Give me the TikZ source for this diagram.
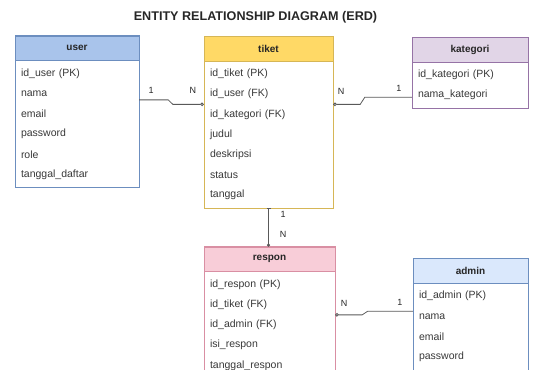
\documentclass[tikz,border=0pt]{standalone}
\usepackage{fontspec}
\setmainfont{Liberation Sans}
\usetikzlibrary{positioning,calc,arrows.meta}

\definecolor{userfill}{HTML}{A9C4EB}
\definecolor{userline}{HTML}{6C8EBF}
\definecolor{tiketfill}{HTML}{FFD966}
\definecolor{tiketline}{HTML}{D6B656}
\definecolor{katfill}{HTML}{E1D5E7}
\definecolor{katline}{HTML}{9673A6}
\definecolor{resfill}{HTML}{F8CDD8}
\definecolor{resline}{HTML}{D98FA3}
\definecolor{admfill}{HTML}{DAE8FC}
\definecolor{admline}{HTML}{6C8EBF}

\begin{document}
\begin{tikzpicture}[x=1pt,y=-1pt]
        \tikzstyle{head} = [rectangle, minimum height=24.5pt, inner sep=0pt, font=\fontsize{10}{12}\selectfont\bfseries, text=black!85]
        \tikzstyle{field} = [rectangle, minimum height=19.8pt, inner xsep=6pt, inner ysep=0pt, align=left, font=\fontsize{10.5}{12}\selectfont, text=black!78]
        \tikzstyle{card} = [inner sep=1pt, font=\fontsize{9}{10}\selectfont, text=black!85]
        \tikzstyle{link} = [draw=black!65, line width=0.8pt]

        \clip (0,0) rectangle (534,369);

        \node (title) at (255.5,17) [font=\fontsize{12.6}{14}\selectfont\bfseries, text=black!85] {ENTITY RELATIONSHIP DIAGRAM (ERD)};

        % user
        \node (userhead) [head, minimum width=124pt, fill=userfill, draw=userline] at (77,48) {user};
        \node (u1) [field, text width=112pt, below right=3pt and 0pt of userhead.south west] {id\_user (PK)};
        \node (u2) [field, text width=112pt, below=0pt of u1] {nama};
        \node (u3) [field, text width=112pt, below=0pt of u2] {email};
        \node (u4) [field, text width=112pt, below=0pt of u3] {password};
        \node (u5) [field, text width=112pt, below=0pt of u4] {role};
        \node (u6) [field, text width=112pt, below=0pt of u5] {tanggal\_daftar};
        \draw [userline] (userhead.north west) rectangle ([yshift=-3pt]u6.south east);

        % tiket
        \node (tikethead) [head, minimum width=129pt, fill=tiketfill, draw=tiketline] at (268.5,48.5) {tiket};
        \node (t1) [field, text width=117pt, below right=3pt and 0pt of tikethead.south west] {id\_tiket (PK)};
        \node (t2) [field, text width=117pt, below=0pt of t1] {id\_user (FK)};
        \node (t3) [field, text width=117pt, below=0pt of t2] {id\_kategori (FK)};
        \node (t4) [field, text width=117pt, below=0pt of t3] {judul};
        \node (t5) [field, text width=117pt, below=0pt of t4] {deskripsi};
        \node (t6) [field, text width=117pt, below=0pt of t5] {status};
        \node (t7) [field, text width=117pt, below=0pt of t6] {tanggal};
        \draw [tiketline] (tikethead.north west) rectangle ([yshift=-3pt]t7.south east);

        % kategori
        \node (kathead) [head, minimum width=116pt, fill=katfill, draw=katline] at (470,49.5) {kategori};
        \node (k1) [field, text width=104pt, below right=3pt and 0pt of kathead.south west] {id\_kategori (PK)};
        \node (k2) [field, text width=104pt, below=0pt of k1] {nama\_kategori};
        \draw [katline] (kathead.north west) rectangle ([yshift=-3pt]k2.south east);

        % respon
        \node (responhead) [head, minimum width=131pt, fill=resfill, draw=resline] at (269.5,259) {respon};
        \node (r1) [field, text width=119pt, below right=3pt and 0pt of responhead.south west] {id\_respon (PK)};
        \node (r2) [field, text width=119pt, below=0pt of r1] {id\_tiket (FK)};
        \node (r3) [field, text width=119pt, below=0pt of r2] {id\_admin (FK)};
        \node (r4) [field, text width=119pt, below=0pt of r3] {isi\_respon};
        \node (r5) [field, text width=119pt, below=0pt of r4] {tanggal\_respon};
        \draw [resline] (responhead.north west) rectangle ([yshift=-3pt]r5.south east);

        % admin
        \node (adminhead) [head, minimum width=115pt, fill=admfill, draw=admline] at (470.5,270.5) {admin};
        \node (a1) [field, text width=103pt, below right=3pt and 0pt of adminhead.south west] {id\_admin (PK)};
        \node (a2) [field, text width=103pt, below=0pt of a1] {nama};
        \node (a3) [field, text width=103pt, below=0pt of a2] {email};
        \node (a4) [field, text width=103pt, below=0pt of a3] {password};
        \draw [admline] (adminhead.north west) rectangle ([yshift=-3pt]a4.south east);

        % relations
        \coordinate (userout) at ([yshift=4pt]u2.south east);
        \coordinate (katin) at ([yshift=-2pt]k2.west);
        \coordinate (adminin) at ([yshift=-5pt]a1.south west);

        \draw [link, -{Circle[open,length=3.5pt]}] (userout) -- +(29,0) -- ([xshift=-31pt]t2.south west) -- (t2.south west);
        \draw [link, {Circle[open,length=3.5pt]}-] (t2.south east) -- +(27,0) -- ([xshift=-47pt]katin) -- (katin);
        \draw [link, line width=1.1pt, {Bar[width=4pt]}-{Circle[open,length=3pt]}] ([yshift=-3pt]t7.south) -- (t7.south |- responhead.north);
        \draw [link, {Circle[open,length=3.5pt]}-] (r2.south east) -- +(27,0) -- ([xshift=-45pt]adminin) -- (adminin);

        \node (c1) [card] at ($(userout)+(12,-9)$) {1};
        \node (c2) [card] at ($(t2.south west)+(-11,-13.6)$) {N};
        \node (c3) [card] at ($(t2.south east)+(8,-12.6)$) {N};
        \node (c4) [card] at ($(katin)+(-13,-8.7)$) {1};
        \node (c5) [card] at ($(t7.south)+(14.5,8.6)$) {1};
        \node (c6) [card] at ($(responhead.north)+(13.5,-11.75)$) {N};
        \node (c7) [card] at ($(r2.south east)+(9,-11)$) {N};
        \node (c8) [card] at ($(adminin)+(-13,-8.5)$) {1};
    \end{tikzpicture}
\end{document}
